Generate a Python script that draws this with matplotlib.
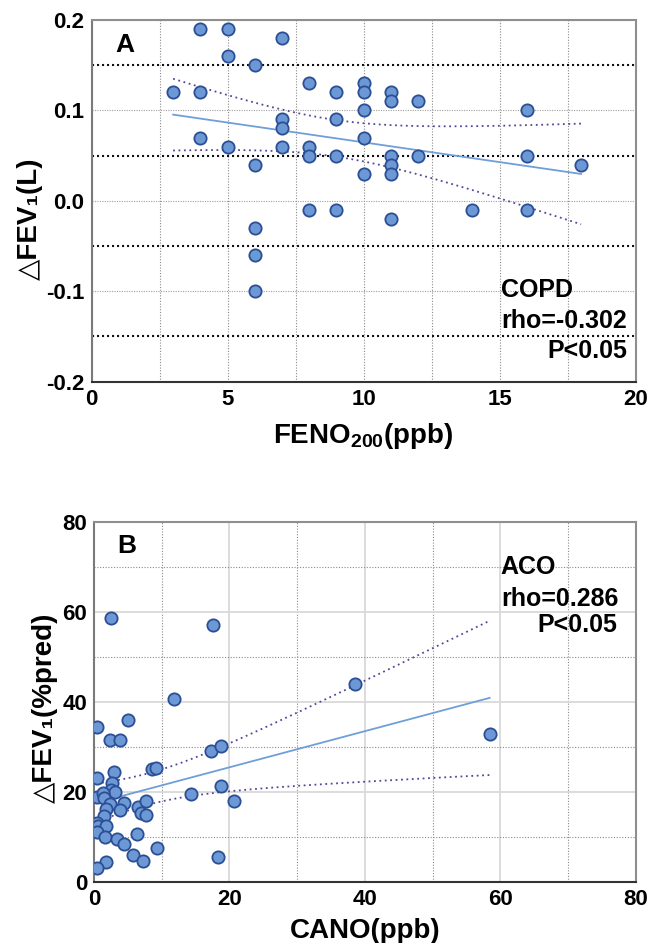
import numpy as np
import matplotlib
matplotlib.use('Agg')
import matplotlib.pyplot as plt
from matplotlib.ticker import MultipleLocator

plt.rcParams['font.family'] = ['Liberation Sans', 'DejaVu Sans']
plt.rcParams['font.weight'] = 'bold'
plt.rcParams['mathtext.fontset'] = 'custom'
plt.rcParams['mathtext.rm'] = 'Liberation Sans:bold'
plt.rcParams['mathtext.bf'] = 'Liberation Sans:bold'
plt.rcParams['mathtext.default'] = 'rm'

# panel A: COPD, FENO200 vs dFEV1 (L)
feno = [3, 4, 4, 4, 5, 5, 5, 6, 6, 6, 6, 6, 7, 7, 7, 7,
        8, 8, 8, 8, 9, 9, 9, 9, 10, 10, 10, 10, 10,
        11, 11, 11, 11, 11, 11, 12, 12, 14, 16, 16, 16, 18]
dfev_l = [0.12, 0.19, 0.12, 0.07, 0.19, 0.16, 0.06, 0.15, 0.04, -0.03, -0.06, -0.10,
          0.18, 0.09, 0.08, 0.06, 0.13, 0.06, 0.05, -0.01, 0.12, 0.09, 0.05, -0.01,
          0.13, 0.12, 0.10, 0.07, 0.03, 0.12, 0.11, 0.05, 0.04, 0.03, -0.02,
          0.11, 0.05, -0.01, 0.10, 0.05, -0.01, 0.04]

# panel B: ACO, CANO vs dFEV1 (%pred)
cano = [2.45, 17.5, 38.5, 11.8, 5.0, 0.5, 2.3, 3.9, 58.4, 17.2, 18.7, 8.6, 9.1, 2.9,
        0.5, 2.7, 2.45, 3.1, 18.7, 14.3, 20.6, 0.4, 1.4, 1.5, 2.3, 4.5, 3.8, 1.8,
        1.5, 6.5, 7.7, 6.9, 7.7, 0.4, 0.55, 1.8, 0.4, 1.65, 6.4, 3.4, 4.5, 9.3,
        5.8, 18.3, 7.3, 1.7, 0.5]
dfev_pct = [58.6, 57.1, 43.9, 40.7, 36.1, 34.4, 31.6, 31.6, 32.9, 29.0, 30.2, 25.0, 25.4, 24.4,
            23.0, 21.9, 20.4, 19.9, 21.3, 19.5, 17.9, 18.9, 19.7, 18.7, 17.3, 17.5, 16.1, 16.3,
            14.7, 16.7, 17.9, 15.3, 14.9, 13.2, 12.4, 12.4, 11.0, 10.1, 10.6, 9.5, 8.4, 7.6,
            6.0, 5.6, 4.7, 4.5, 3.0]

stats_a = ['COPD', 'rho=-0.302', 'P<0.05']
stats_b = ['ACO', 'rho=0.286', 'P<0.05']

fill_c = '#6d98d6'
edge_c = '#2b4f94'
fit_c = '#6f9fd8'
ci_c = '#54469a'


def fit_band(ax, x, y, t=2.02):
    x = np.asarray(x, float)
    y = np.asarray(y, float)
    n = len(x)
    b, a = np.polyfit(x, y, 1)
    res = y - (a + b * x)
    s = np.sqrt(np.sum(res ** 2) / (n - 2))
    xs = np.linspace(x.min(), x.max(), 200)
    yf = a + b * xs
    se = s * np.sqrt(1.0 / n + (xs - x.mean()) ** 2 / np.sum((x - x.mean()) ** 2))
    ax.plot(xs, yf, color=fit_c, lw=1.3, zorder=3)
    ax.plot(xs, yf + t * se, color=ci_c, lw=1.3, ls=(0, (1, 2)), zorder=3)
    ax.plot(xs, yf - t * se, color=ci_c, lw=1.3, ls=(0, (1, 2)), zorder=3)


def style_axes(ax):
    for side in ['top', 'right']:
        ax.spines[side].set_color('#8f8f8f')
        ax.spines[side].set_linewidth(1.5)
    ax.spines['left'].set_color('#7a7a7a')
    ax.spines['left'].set_linewidth(1.5)
    ax.spines['bottom'].set_color('#333333')
    ax.spines['bottom'].set_linewidth(1.5)
    ax.tick_params(which='both', length=0, labelsize=16, pad=5)
    for lab in ax.get_xticklabels() + ax.get_yticklabels():
        lab.set_fontweight('bold')
    ax.set_axisbelow(True)


fig = plt.figure(figsize=(6.5, 9.43), dpi=100)

# ---- A
ax1 = fig.add_axes([0.1408, 0.5953, 0.8369, 0.3835])
ax1.set_xlim(0, 20)
ax1.set_ylim(-0.2, 0.2)
ax1.xaxis.set_major_locator(MultipleLocator(5))
ax1.xaxis.set_minor_locator(MultipleLocator(2.5))
ax1.set_yticks([-0.2, -0.1, 0.0, 0.1, 0.2])
ax1.set_yticks([-0.15, -0.05, 0.05, 0.15], minor=True)
ax1.set_yticklabels(['-0.2', '-0.1', '0.0', '0.1', '0.2'])
ax1.grid(True, axis='x', which='both', color='#8a8a8a', lw=0.8, ls=(0, (1, 1.5)))
ax1.grid(True, axis='y', which='major', color='#a0a0a0', lw=0.8, ls=(0, (1, 1.2)))
ax1.grid(True, axis='y', which='minor', color='#111111', lw=1.5, ls=(0, (1, 1.4)))
fit_band(ax1, feno, dfev_l, t=2.021)
ax1.scatter(feno, dfev_l, s=78, c=fill_c, edgecolors=edge_c, linewidths=1.3, zorder=4)
style_axes(ax1)
ax1.set_xlabel('FENO$_{200}$(ppb)', fontsize=20, fontweight='bold', labelpad=8)
ax1.set_ylabel('\u25b3FEV\u2081(L)', fontsize=20, fontweight='bold')
ax1.yaxis.set_label_coords(-0.089, 0.45)
ax1.text(0.062, 0.931, 'A', transform=ax1.transAxes, fontsize=19, fontweight='bold',
         ha='center', va='center')
ax1.text(0.753, 0.253, stats_a[0], transform=ax1.transAxes, fontsize=18, fontweight='bold',
         ha='left', va='center')
ax1.text(0.753, 0.167, stats_a[1], transform=ax1.transAxes, fontsize=18, fontweight='bold',
         ha='left', va='center')
ax1.text(0.984, 0.085, stats_a[2], transform=ax1.transAxes, fontsize=18, fontweight='bold',
         ha='right', va='center')

# ---- B
ax2 = fig.add_axes([0.1446, 0.0647, 0.8338, 0.3818])
ax2.set_xlim(0, 80)
ax2.set_ylim(0, 80)
ax2.xaxis.set_major_locator(MultipleLocator(20))
ax2.xaxis.set_minor_locator(MultipleLocator(10))
ax2.yaxis.set_major_locator(MultipleLocator(20))
ax2.yaxis.set_minor_locator(MultipleLocator(10))
ax2.grid(True, which='major', color='#d9d9d9', lw=1.3, ls='-')
ax2.grid(True, which='minor', color='#8a8a8a', lw=0.8, ls=(0, (1, 1.5)))
fit_band(ax2, cano, dfev_pct, t=2.014)
ax2.scatter(cano, dfev_pct, s=78, c=fill_c, edgecolors=edge_c, linewidths=1.3, zorder=4)
style_axes(ax2)
ax2.set_xlabel('CANO(ppb)', fontsize=20, fontweight='bold', labelpad=6)
ax2.set_ylabel('\u25b3FEV\u2081(%pred)', fontsize=20, fontweight='bold')
ax2.yaxis.set_label_coords(-0.066, 0.483)
ax2.text(0.061, 0.933, 'B', transform=ax2.transAxes, fontsize=19, fontweight='bold',
         ha='center', va='center')
ax2.text(0.749, 0.875, stats_b[0], transform=ax2.transAxes, fontsize=18, fontweight='bold',
         ha='left', va='center')
ax2.text(0.752, 0.787, stats_b[1], transform=ax2.transAxes, fontsize=18, fontweight='bold',
         ha='left', va='center')
ax2.text(0.965, 0.713, stats_b[2], transform=ax2.transAxes, fontsize=18, fontweight='bold',
         ha='right', va='center')

fig.savefig('out.png', dpi=100)
